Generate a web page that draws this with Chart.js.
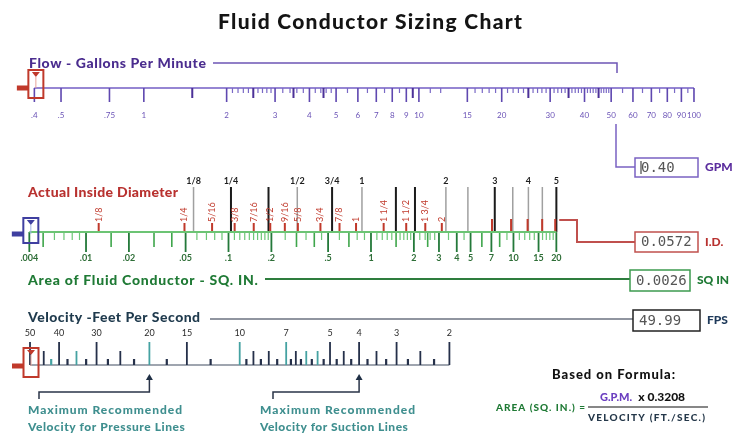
<!DOCTYPE html>
<html>
<head>
<meta charset="utf-8">
<title>Fluid Conductor Sizing Chart</title>
<script src="https://cdn.jsdelivr.net/npm/chart.js@4.4.1/dist/chart.umd.min.js"></script>
<style>
  html, body { margin: 0; padding: 0; background: #fff; }
  #box { width: 740px; height: 439px; }
</style>
</head>
<body>
<div id="box"><canvas id="sizing"></canvas></div>
<script>
const FONT = "Lato, 'DejaVu Sans', sans-serif";
const MONO = "'DejaVu Sans Mono', monospace";

// Flow - gallons per minute
const flowTicks = [0.4, 0.5, 0.75, 1, 2, 3, 4, 5, 6, 7, 8, 9, 10, 15, 20, 30, 40, 50, 60, 70, 80, 90, 100];
const flowTickLabels = ['.4', '.5', '.75', '1', '2', '3', '4', '5', '6', '7', '8', '9', '10', '15', '20', '30', '40', '50', '60', '70', '80', '90', '100'];
const flowMidTicks = [1.5, 2.5, 3.5, 4.5, 9.5, 25, 35, 45];
const flowSmallTicks = [2.1, 2.2, 2.3, 2.4, 2.6, 2.7, 2.8, 2.9, 3.2, 3.4, 3.6, 3.8, 4.2, 4.4, 4.6, 4.8,
  5.5, 6.5, 7.5, 8.5, 11, 12, 16, 17, 18, 19, 21, 22, 23, 24, 26, 27, 28, 29,
  31, 32, 33, 34, 36, 37, 38, 39, 41, 42, 43, 44, 46, 47, 48, 49, 55, 65, 75, 85, 95];

// Area of fluid conductor - sq. in.
const areaTicks = [0.004, 0.01, 0.02, 0.05, 0.1, 0.2, 0.5, 1, 2, 3, 4, 5, 7, 10, 15, 20];
const areaTickLabels = ['.004', '.01', '.02', '.05', '.1', '.2', '.5', '1', '2', '3', '4', '5', '7', '10', '15', '20'];
const areaMidTicks = [0.005, 0.015, 0.03, 0.04, 0.3, 0.4, 0.7, 1.5, 2.5, 6, 8];
const areaSmallTicks = [0.006, 0.007, 0.008, 0.009, 0.06, 0.07, 0.08, 0.09,
  0.11, 0.12, 0.13, 0.14, 0.15, 0.16, 0.17, 0.18, 0.19, 0.25, 0.35, 0.45, 0.6, 0.8, 0.9,
  1.1, 1.2, 1.3, 1.4, 1.6, 1.7, 1.8, 1.9, 2.2, 2.4, 2.6, 2.8, 3.5, 4.5, 9, 11, 12, 13, 14, 16, 17, 18, 19];

// Actual inside diameter: nominal pipe sizes (black) and tube sizes (red)
const pipeSizes = ['1/8', '1/4', '3/8', '1/2', '3/4', '1', '1 1/4', '1 1/2', '2', '2 1/2', '3', '3 1/2', '4', '4 1/2', '5'];
const pipeIDs = [0.269, 0.364, 0.493, 0.622, 0.824, 1.049, 1.380, 1.610, 2.067, 2.469, 3.068, 3.548, 4.026, 4.506, 5.047];
const pipeShown = ['1/8', '1/4', '1/2', '3/4', '1', '2', '3', '4', '5'];
const pipeHeavy = ['1/4', '3/8', '3/4', '1 1/4', '1 1/2', '3', '5'];
const tubeSizes = [0.125, 0.25, 0.3125, 0.375, 0.4375, 0.5, 0.5625, 0.625, 0.75, 0.875, 1, 1.25, 1.5, 1.75, 2, 3, 3.5, 4, 4.5, 5];
const tubeLabels = ['1/8', '1/4', '5/16', '3/8', '7/16', '1/2', '9/16', '5/8', '3/4', '7/8', '1', '1 1/4', '1 1/2', '1 3/4', '2', '', '', '', '', ''];

// Velocity - feet per second
const velTicks = [50, 40, 30, 20, 15, 10, 7, 5, 4, 3, 2];
const velMidTicks = [45, 35, 25, 9, 8, 6.5, 6, 5.5, 4.5, 3.5, 2.5];
const velSmallTicks = [42.5, 37.5, 32.5, 27.5, 22.5, 17.5, 12.5, 9.5, 8.5, 7.5, 6.75, 6.25, 5.75, 5.25, 4.75, 4.25, 3.75, 3.25, 2.75, 2.25];
const velAccentTicks = [42.5, 35, 20, 10, 7, 6, 5.5];
const pressureMaxFps = 20;
const suctionMaxFps = 4;

// read-outs
const readGpm = '0.40';
const readId = '0.0572';
const readArea = '0.0026';
const readFps = '49.99';

// axis extents (left edge to right edge of the sheet)
const flowRange = [0.317, 147];
const areaRange = [0.00249, 389];
const velRange = [0.215, 62.95];
const diaRange = areaRange.map(a => Math.sqrt(4 * a / Math.PI));

// rows on the sheet
const ROW = { flow: 88, pipeTop: 187, area: 232, tube: 223, vel: 365 };

function segs(values, from, to) {
  const pts = [];
  values.forEach(v => { pts.push({x: v, y: from}, {x: v, y: to}, {x: v, y: null}); });
  return pts;
}

const sets = [];
function add(axis, data, color, width) {
  sets.push({
    xAxisID: axis, yAxisID: 'y', data, borderColor: color, borderWidth: width,
    showLine: true, spanGaps: false, pointRadius: 0, borderCapStyle: 'butt',
    order: -sets.length, clip: false
  });
}

// flow scale
add('xFlow', [{x: flowTicks[0], y: ROW.flow}, {x: flowTicks[flowTicks.length - 1], y: ROW.flow}], '#9686d3', 2);
add('xFlow', segs(flowSmallTicks, ROW.flow, ROW.flow + 5), '#7a69c6', 1.2);
add('xFlow', segs(flowMidTicks, ROW.flow, ROW.flow + 10), '#4c3198', 2);
add('xFlow', segs(flowTicks, ROW.flow, ROW.flow + 14), '#5f48b0', 1.6);

// pipe lines and tube ticks
const pipeLight = pipeIDs.filter((d, i) => !pipeHeavy.includes(pipeSizes[i]));
const pipeDark = pipeIDs.filter((d, i) => pipeHeavy.includes(pipeSizes[i]));
add('xDia', segs(pipeLight, ROW.pipeTop, ROW.area), '#a0a0a0', 1.5);
add('xDia', segs(pipeDark, ROW.pipeTop, ROW.area), '#1b1b1b', 2);
add('xDia', segs(tubeSizes.filter((d, i) => tubeLabels[i]), ROW.tube, ROW.area), '#c0392b', 2);
add('xDia', segs(tubeSizes.filter((d, i) => !tubeLabels[i]), ROW.tube - 4, ROW.area), '#c0392b', 2);

// area scale
add('xArea', segs(areaSmallTicks, ROW.area, ROW.area + 8), '#6cc777', 1.2);
add('xArea', segs(areaMidTicks, ROW.area, ROW.area + 15), '#3fa64c', 1.6);
add('xArea', segs(areaTicks, ROW.area, ROW.area + 20), '#24793a', 1.8);
add('xArea', [{x: areaTicks[0], y: ROW.area}, {x: areaTicks[areaTicks.length - 1], y: ROW.area}], '#6cc474', 2);

// velocity scale
add('xVel', [{x: velTicks[0], y: ROW.vel}, {x: velTicks[velTicks.length - 1], y: ROW.vel}], '#7f8794', 1.5);
[[velSmallTicks, 6, 2.2], [velMidTicks, 14, 1.8], [velTicks, 23, 1.8]].forEach(([vals, len, w]) => {
  add('xVel', segs(vals.filter(v => !velAccentTicks.includes(v)), ROW.vel, ROW.vel - len), '#25304a', w);
  add('xVel', segs(vals.filter(v => velAccentTicks.includes(v)), ROW.vel, ROW.vel - len), '#45a2a2', w);
});

function axis(range, labelY, values, labels, size, color, reverse, weight) {
  return {
    type: 'logarithmic', axis: 'x', min: range[0], max: range[1], reverse,
    position: {y: labelY - size / 2},
    grid: {display: false, drawTicks: false},
    border: {display: false},
    afterBuildTicks: s => { s.ticks = values.map(v => ({value: v})); },
    ticks: {
      autoSkip: false, maxRotation: 0, minRotation: 0, padding: 0, color,
      font: {family: FONT, size, weight, lineHeight: 1},
      callback: (v, i) => labels[i]
    }
  };
}

// draws a label; returns the x where it ends
function text(ctx, str, x, y, o) {
  ctx.save();
  ctx.font = (o.weight || '900') + ' ' + o.size + 'px ' + (o.family || FONT);
  ctx.fillStyle = o.color;
  ctx.textBaseline = 'middle';
  ctx.textAlign = 'left';
  if (o.width) {
    const w = ctx.measureText(str).width;
    ctx.letterSpacing = ((o.width - w) / Math.max(str.length - 1, 1)).toFixed(2) + 'px';
  }
  ctx.fillText(str, x, y);
  const end = x + ctx.measureText(str).width;
  ctx.restore();
  return end;
}

function path(ctx, pts, color, width) {
  ctx.save();
  ctx.strokeStyle = color;
  ctx.lineWidth = width;
  ctx.beginPath();
  pts.forEach((p, i) => i ? ctx.lineTo(p[0], p[1]) : ctx.moveTo(p[0], p[1]));
  ctx.stroke();
  ctx.restore();
}

function readout(ctx, x, y, w, h, border, value, unit, unitColor) {
  ctx.save();
  ctx.strokeStyle = border;
  ctx.lineWidth = 1.5;
  ctx.strokeRect(x, y, w, h);
  ctx.restore();
  text(ctx, value, x + 6, y + h / 2 + 0.5, {size: 14, weight: 'normal', family: MONO, color: '#555'});
  text(ctx, unit, x + w + 7, y + h / 2, {size: 12, color: unitColor});
}

function slider(ctx, cx, top, bottom, rowY, color, inner) {
  ctx.save();
  ctx.fillStyle = color;
  ctx.fillRect(cx - 19, rowY - 2.5, 12, 5);
  ctx.strokeStyle = color;
  ctx.lineWidth = 2;
  ctx.strokeRect(cx - 7.5, top, 15, bottom - top);
  ctx.beginPath();
  ctx.moveTo(cx - 4, top + 2);
  ctx.lineTo(cx + 4, top + 2);
  ctx.lineTo(cx, top + 7);
  ctx.closePath();
  ctx.fill();
  ctx.strokeStyle = inner;
  ctx.lineWidth = 1;
  ctx.beginPath();
  ctx.moveTo(cx, top + 7);
  ctx.lineTo(cx, rowY);
  ctx.stroke();
  ctx.restore();
}

function limitMarker(ctx, px, textX) {
  ctx.save();
  ctx.fillStyle = '#1f2f45';
  ctx.beginPath();
  ctx.moveTo(px, 374);
  ctx.lineTo(px + 3.5, 380);
  ctx.lineTo(px - 3.5, 380);
  ctx.closePath();
  ctx.fill();
  ctx.restore();
  path(ctx, [[px, 380], [px, 392], [textX + 11, 392], [textX + 11, 399]], '#2a3448', 1.5);
}

const decor = {
  id: 'decor',
  afterDraw(chart) {
    const ctx = chart.ctx;
    const sc = chart.scales;

    text(ctx, 'Fluid Conductor Sizing Chart', 218, 22, {size: 21, color: '#141414', width: 304});

    // flow
    text(ctx, 'Flow - Gallons Per Minute', 29, 63, {size: 14, color: '#4b2d8f', width: 177});
    path(ctx, [[213, 63], [617, 63], [617, 73]], '#6d55b5', 1.5);
    path(ctx, [[616, 124], [616, 167], [635, 167]], '#7a62c2', 1.5);
    readout(ctx, 635, 158, 63, 19, '#7a62c2', readGpm, 'GPM', '#5b2d9e');
    path(ctx, [[641, 161], [641, 174]], '#222', 1);

    // diameter
    text(ctx, 'Actual Inside Diameter', 28, 192, {size: 14, color: '#b8312f', width: 150});
    const xd = sc.xDia;
    ctx.save();
    ctx.fillStyle = '#c0392b';
    ctx.font = '9px ' + FONT;
    ctx.textAlign = 'left';
    ctx.textBaseline = 'middle';
    tubeSizes.forEach((d, i) => {
      if (!tubeLabels[i]) return;
      ctx.save();
      ctx.translate(xd.getPixelForValue(d), ROW.tube - 1);
      ctx.rotate(-Math.PI / 2);
      ctx.fillText(tubeLabels[i], 0, 0);
      ctx.restore();
    });
    ctx.restore();
    const dEnd = xd.getPixelForValue(tubeSizes[tubeSizes.length - 1]);
    path(ctx, [[dEnd + 4, 220], [577, 220], [577, 242], [635, 242]], '#c0504d', 2);
    readout(ctx, 635, 232, 63, 20, '#c0504d', readId, 'I.D.', '#b8312f');

    // area
    text(ctx, 'Area of Fluid Conductor - SQ. IN.', 28, 280, {size: 14, color: '#1f7a35', width: 230});
    path(ctx, [[265, 279], [630, 279]], '#2e7d3e', 2);
    readout(ctx, 630, 270, 60, 21, '#3d9a4f', readArea, 'SQ IN', '#1f7a35');

    // velocity
    text(ctx, 'Velocity -Feet Per Second', 28, 317, {size: 14, color: '#1f3a4d', width: 172});
    path(ctx, [[210, 319], [633, 319]], '#6b7280', 1.5);
    readout(ctx, 633, 310, 67, 21, '#222', readFps, 'FPS', '#1f3a5a');

    // sliders
    slider(ctx, sc.xFlow.getPixelForValue(flowTicks[0]) + 1.5, 70, 98, ROW.flow, '#c0392b', '#e8a39a');
    slider(ctx, sc.xArea.getPixelForValue(areaTicks[0]) + 1.5, 218, 243, ROW.area + 2, '#3f3fa0', '#9fb4e8');
    slider(ctx, sc.xVel.getPixelForValue(velTicks[0]) + 1, 348, 377, ROW.vel + 1, '#c0392b', '#e8a39a');

    // recommended limits
    limitMarker(ctx, sc.xVel.getPixelForValue(pressureMaxFps), 28);
    limitMarker(ctx, sc.xVel.getPixelForValue(suctionMaxFps), 262);
    text(ctx, 'Maximum Recommended', 28, 410, {size: 12, color: '#3f8f8f', width: 154});
    text(ctx, 'Velocity for Pressure Lines', 28, 427, {size: 12, color: '#3f8f8f', width: 157});
    text(ctx, 'Maximum Recommended', 260, 410, {size: 12, color: '#3f8f8f', width: 155});
    text(ctx, 'Velocity for Suction Lines', 260, 427, {size: 12, color: '#3f8f8f', width: 148});

    // formula
    text(ctx, 'Based on Formula:', 552, 375, {size: 13, color: '#111', width: 123});
    text(ctx, 'AREA (SQ. IN.) =', 496, 408, {size: 10, color: '#1f7a35', width: 89});
    const gpmEnd = text(ctx, 'G.P.M.', 600, 397, {size: 11, color: '#6b3fc0'});
    text(ctx, 'x 0.3208', gpmEnd + 6, 397, {size: 12, color: '#111'});
    path(ctx, [[588, 407], [708, 407]], '#111', 1.2);
    text(ctx, 'VELOCITY (FT./SEC.)', 588, 418, {size: 10, color: '#25384a', width: 117});
  }
};

new Chart(document.getElementById('sizing'), {
  type: 'scatter',
  data: { datasets: sets },
  options: {
    responsive: true,
    maintainAspectRatio: false,
    animation: false,
    events: [],
    layout: { padding: 0 },
    plugins: { legend: { display: false }, tooltip: { enabled: false }, title: { display: false } },
    scales: {
      y: { type: 'linear', min: 0, max: 439, reverse: true, display: false },
      xFlow: axis(flowRange, 115, flowTicks, flowTickLabels, 8, '#6a52b6', false, 'normal'),
      xDia: axis(diaRange, 181, pipeIDs, pipeSizes.map(s => pipeShown.includes(s) ? s : ''), 9, '#1e1e1e', false, 'bold'),
      xArea: axis(areaRange, 258, areaTicks, areaTickLabels, 9, '#2e6e37', false, 'bold'),
      xVel: axis(velRange, 333, velTicks, velTicks.map(String), 9, '#2a2a2a', true, 'normal')
    }
  },
  plugins: [decor]
});
</script>
</body>
</html>
